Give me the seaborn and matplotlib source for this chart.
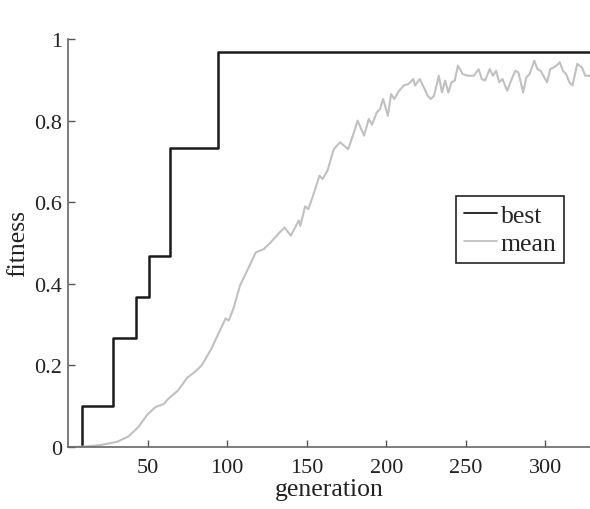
import numpy as np
import pandas as pd
import matplotlib
matplotlib.use("Agg")
import matplotlib.pyplot as plt
import seaborn as sns

# best fitness (step function)
best_gen = [0, 9, 28, 43, 51, 64, 94, 330]
best_fit = [0.0, 0.1, 0.267, 0.367, 0.467, 0.733, 0.967, 0.967]

# mean fitness
mean_gen = [0, 10, 21, 31, 38, 44, 50, 55, 60, 63, 69, 75, 80, 84, 90, 92, 96, 99,
            101, 104, 108, 114, 118, 123, 127, 133, 136, 140, 145, 146, 149, 151,
            154, 158, 160, 163, 167, 171, 176, 179, 182, 186, 189, 191, 194,
            196, 198, 201, 203, 205, 208, 211, 214, 217, 218, 221, 223, 226, 228,
            230, 233, 235, 237, 239, 241, 243, 245, 248, 251, 255, 258, 260, 262,
            265, 267, 269, 271, 273, 276, 278, 281, 283, 286, 288, 290, 293, 295,
            297, 301, 303, 305, 307, 309, 311, 313, 315, 317, 320, 323, 325, 328]
mean_fit = [0.0, 0.001, 0.005, 0.013, 0.026, 0.048, 0.08, 0.098, 0.105, 0.118, 0.138,
            0.17, 0.185, 0.2, 0.24, 0.257, 0.29, 0.315, 0.31, 0.34, 0.395, 0.444,
            0.477, 0.485, 0.50, 0.526, 0.538, 0.518, 0.555, 0.542, 0.59, 0.583,
            0.616, 0.665, 0.657, 0.677, 0.73, 0.747, 0.73, 0.763, 0.80, 0.763,
            0.804, 0.79, 0.82,
            0.828, 0.853, 0.812, 0.865, 0.853, 0.873, 0.886, 0.89, 0.902, 0.886,
            0.902, 0.886, 0.861, 0.853, 0.861, 0.91, 0.869, 0.898, 0.869, 0.894,
            0.898, 0.935, 0.914, 0.91, 0.91, 0.926, 0.902, 0.898, 0.926, 0.91,
            0.922, 0.894, 0.902, 0.873, 0.894, 0.922, 0.918, 0.869, 0.906, 0.914,
            0.947, 0.926, 0.922, 0.894, 0.926, 0.93, 0.935, 0.943, 0.922, 0.914,
            0.894, 0.886, 0.939, 0.93, 0.91, 0.91]

x_ticks = [50, 100, 150, 200, 250, 300]
y_ticks = [0, 0.2, 0.4, 0.6, 0.8, 1]
y_labels = ["0", "0.2", "0.4", "0.6", "0.8", "1"]

sns.set_style("ticks")
plt.rcParams['font.family'] = ['Liberation Serif', 'DejaVu Serif']

fig = plt.figure(figsize=(5.9, 5.1), dpi=100)
ax = fig.add_axes([68 / 590, 1 - 448 / 510, 1 - 68 / 590, 408 / 510])

df_best = pd.DataFrame({"gen": best_gen, "fit": best_fit})
df_mean = pd.DataFrame({"gen": mean_gen, "fit": mean_fit})

sns.lineplot(data=df_best, x="gen", y="fit", drawstyle="steps-post", color="#1a1a1a",
             lw=1.8, label="best", ax=ax)
sns.lineplot(data=df_mean, x="gen", y="fit", color="#c0c0c0", lw=1.5, label="mean", ax=ax)

ax.set_xlim(0, 328)
ax.set_ylim(0, 1)
ax.set_xticks(x_ticks)
ax.set_yticks(y_ticks)
ax.set_yticklabels(y_labels)
ax.tick_params(direction="in", length=5, width=1, colors="#555555", labelcolor="#222222",
               labelsize=16)
ax.tick_params(axis="x", pad=8)
ax.tick_params(axis="y", pad=4)
sns.despine(ax=ax)
for s in ["left", "bottom"]:
    ax.spines[s].set_color("#666666")
    ax.spines[s].set_linewidth(1.2)

ax.set_xlabel("generation", fontsize=18.5, color="#222222", labelpad=1)
ax.set_ylabel("fitness", fontsize=18.5, color="#222222", labelpad=4)

leg = ax.legend(loc="upper left", bbox_to_anchor=(0.743, 0.615), borderaxespad=0,
                fontsize=18.5, frameon=True, fancybox=False, handlelength=1.3,
                handletextpad=0.15, borderpad=0.3, labelspacing=0.22)
leg.get_frame().set_edgecolor("#222222")
leg.get_frame().set_linewidth(1.2)
leg.get_frame().set_alpha(1)
for h in leg.get_lines():
    h.set_linewidth(1.3)

fig.savefig("out.png", dpi=100)
